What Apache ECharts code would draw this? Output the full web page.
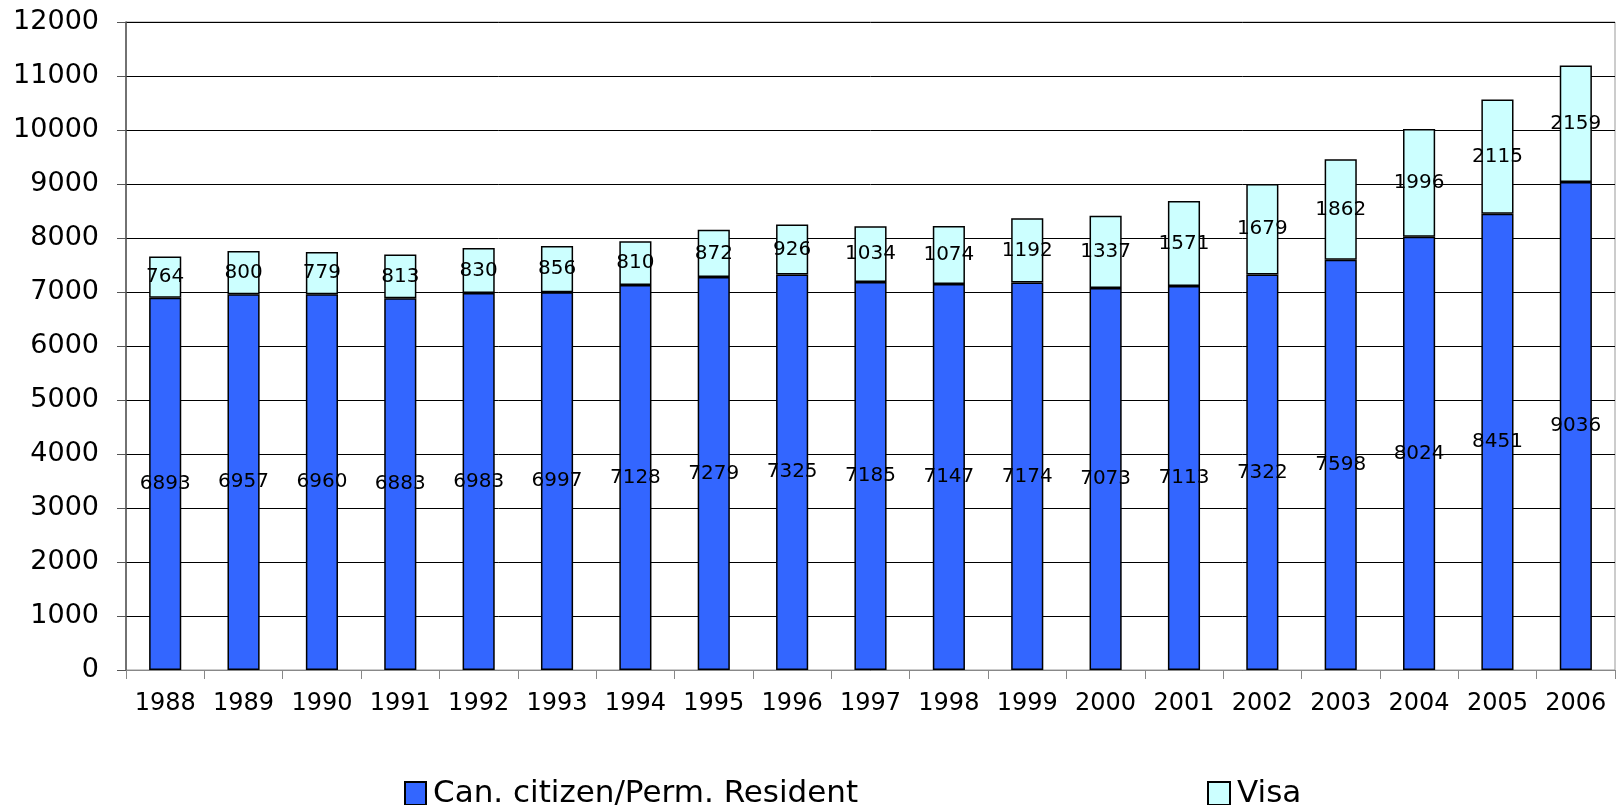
<!DOCTYPE html>
<html><head><meta charset="utf-8">
<script src="https://cdn.jsdelivr.net/npm/echarts@6/dist/echarts.min.js"></script>
<style>html,body{margin:0;padding:0;background:#fff}#c{width:1623px;height:805px}</style>
</head><body><div id="c"></div>
<script>
const years = ['1988','1989','1990','1991','1992','1993','1994','1995','1996','1997','1998','1999','2000','2001','2002','2003','2004','2005','2006'];
const citizen = [6893,6957,6960,6883,6983,6997,7128,7279,7325,7185,7147,7174,7073,7113,7322,7598,8024,8451,9036];
const visa = [764,800,779,813,830,856,810,872,926,1034,1074,1192,1337,1571,1679,1862,1996,2115,2159];
const yTicks = [0,1000,2000,3000,4000,5000,6000,7000,8000,9000,10000,11000,12000];

const font = 'DejaVu Sans, sans-serif';
const chart = echarts.init(document.getElementById('c'), null, {renderer:'canvas'});
const lbl = {show:true, position:'inside', color:'#000', fontFamily:font, fontSize:20};
chart.setOption({
  animation:false,
  backgroundColor:'#fff',
  legend:[
    {data:['Can. citizen/Perm. Resident'], left:404, top:778, padding:0, itemWidth:21, itemHeight:23, itemGap:10,
     textStyle:{fontFamily:font, fontSize:31, lineHeight:24, color:'#000', padding:[0,0,0,2]}, icon:'rect'},
    {data:['Visa'], left:1207, top:778, padding:0, itemWidth:22, itemHeight:23,
     textStyle:{fontFamily:font, fontSize:31, lineHeight:24, color:'#000', padding:[0,0,0,2]}, icon:'rect'}
  ],
  grid:{left:126, right:8, top:22, bottom:135, show:true, borderColor:'#999', borderWidth:1, containLabel:false},
  xAxis:{type:'category', data:years, boundaryGap:true,
    axisLine:{lineStyle:{color:'#888', width:1}},
    axisTick:{show:true, length:9, lineStyle:{color:'#888'}},
    axisLabel:{color:'#000', fontFamily:font, fontSize:24, margin:22, interval:0}},
  yAxis:{type:'value', min:yTicks[0], max:yTicks[yTicks.length-1], interval:1000,
    axisLine:{show:true, lineStyle:{color:'#555', width:1.5}},
    axisTick:{show:true, length:9, lineStyle:{color:'#555'}},
    splitLine:{lineStyle:{color:'#000', width:1}},
    axisLabel:{color:'#000', fontFamily:font, fontSize:27, margin:27, formatter: v => String(v)}},
  series:[
    {name:'Can. citizen/Perm. Resident', type:'bar', stack:'s', data:citizen, barWidth:'41%',
     itemStyle:{color:'#3366ff', borderColor:'#000', borderWidth:1.5}, label:lbl},
    {name:'Visa', type:'bar', stack:'s', data:visa, barWidth:'41%',
     itemStyle:{color:'#ccffff', borderColor:'#000', borderWidth:1.5}, label:lbl}
  ]
});
</script></body></html>
